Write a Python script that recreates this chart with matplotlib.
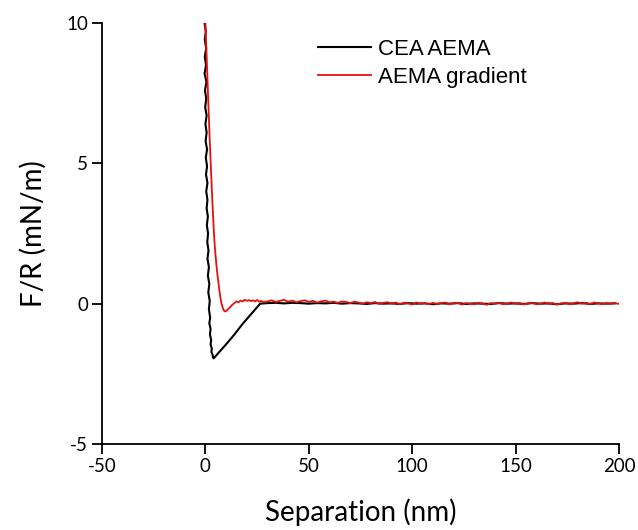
import numpy as np
import matplotlib
matplotlib.use("Agg")
import matplotlib.pyplot as plt

# ---------------- data ----------------
# CEA AEMA: approach (noisy descent), jump, linear recovery, flat baseline
cea_x_descent = [-0.4, 0.2, -0.3, 0.4, -0.3, 0.3, -0.4, 0.5, -0.2, 0.4, -0.1, 0.6,
                 0.0, 0.6, 0.1, 0.8, 0.2, 0.8, 0.3, 1.0, 0.4, 1.0, 0.6, 1.2,
                 0.7, 1.3, 0.9, 1.5, 1.0, 1.7, 1.2, 1.9, 1.4, 2.1, 1.7, 2.3,
                 1.9, 2.5, 2.2, 2.8, 2.5, 3.1, 2.9, 3.5, 3.6, 4.0]
cea_y_descent = [10.0, 9.7, 9.4, 9.1, 8.8, 8.5, 8.2, 7.9, 7.6, 7.3, 7.0, 6.7,
                 6.4, 6.1, 5.8, 5.5, 5.2, 4.9, 4.6, 4.3, 4.0, 3.7, 3.4, 3.1,
                 2.8, 2.5, 2.2, 1.9, 1.6, 1.3, 1.0, 0.7, 0.4, 0.1, -0.2, -0.5,
                 -0.7, -0.9, -1.1, -1.3, -1.45, -1.6, -1.72, -1.82, -1.9, -1.95]
cea_x_recover = [6.0, 10.0, 14.0, 18.0, 22.0, 26.5]
cea_y_recover = [-1.78, -1.45, -1.1, -0.72, -0.38, 0.0]
cea_x_tail = np.arange(30, 201, 4)
cea_y_tail = [0.02, 0.03, 0.01, 0.03, 0.02, 0.00, 0.02, 0.01, 0.03, 0.00,
              0.02, 0.01, -0.01, 0.02, 0.00, 0.01, -0.01, 0.02, 0.00, 0.01,
              -0.02, 0.01, 0.00, 0.02, -0.01, 0.01, 0.00, -0.01, 0.02, 0.00,
              0.01, -0.01, 0.02, 0.00, 0.01, -0.02, 0.01, 0.00, 0.02, -0.01,
              0.01, 0.00, 0.01]

# AEMA gradient: smooth steep decay, shallow minimum, slight bump, baseline
grad_x_head = [0.0, 0.4, 0.8, 1.2, 1.6, 2.0, 2.4, 2.8, 3.2, 3.6, 4.0, 4.4, 4.8,
               5.3, 5.8, 6.3, 6.8, 7.3, 7.8, 8.4, 9.0, 9.6, 10.4, 11.2, 12.0,
               13.0, 14.0, 15.0, 16.0, 17.0, 18.0, 19.0, 20.0, 21.0, 22.0,
               23.0, 24.0, 25.0, 26.0, 27.0, 28.0]
grad_y_head = [10.0, 9.2, 8.4, 7.6, 6.8, 6.0, 5.3, 4.6, 3.9, 3.3, 2.7, 2.2, 1.8,
               1.4, 1.05, 0.75, 0.45, 0.2, 0.0, -0.15, -0.25, -0.28, -0.24, -0.18,
               -0.12, -0.04, 0.02, 0.08, 0.05, 0.11, 0.08, 0.14, 0.10, 0.13, 0.09,
               0.12, 0.08, 0.13, 0.07, 0.10, 0.06]
grad_x_tail = np.arange(30, 201, 2)
grad_y_tail = [0.08, 0.12, 0.06, 0.10, 0.14, 0.07, 0.11, 0.05, 0.09, 0.12,
               0.06, 0.10, 0.04, 0.08, 0.11, 0.05, 0.07, 0.03, 0.08, 0.06,
               0.02, 0.07, 0.04, 0.00, 0.05, 0.02, 0.06, -0.01, 0.03, 0.05,
               0.00, 0.04, -0.02, 0.03, 0.01, -0.03, 0.04, 0.00, 0.02, -0.02,
               0.03, -0.01, 0.02, 0.04, -0.02, 0.01, 0.03, -0.03, 0.02, 0.00,
               -0.02, 0.03, 0.01, -0.04, 0.02, 0.00, 0.03, -0.02, 0.01, 0.04,
               -0.01, 0.02, -0.03, 0.01, 0.03, -0.02, 0.00, 0.04, -0.01, 0.02,
               -0.03, 0.01, 0.03, -0.02, 0.02, 0.05, 0.00, 0.03, -0.01, 0.04,
               0.01, -0.02, 0.03, 0.00, 0.02, -0.01]

x_ticks = [-50, 0, 50, 100, 150, 200]
y_ticks = [-5, 0, 5, 10]
series_names = ["CEA AEMA", "AEMA gradient"]

# ---------------- figure ----------------
fig = plt.figure(figsize=(6.38, 5.30), dpi=100)
ax = fig.add_axes([102 / 638, 1 - 444 / 530, (619 - 102) / 638, (444 - 23) / 530])

cea_x = list(cea_x_descent) + list(cea_x_recover) + list(cea_x_tail)
cea_y = list(cea_y_descent) + list(cea_y_recover) + list(cea_y_tail)
grad_x = list(grad_x_head) + list(grad_x_tail)
grad_y = list(grad_y_head) + list(grad_y_tail)

ax.plot(cea_x, cea_y, color="black", lw=1.5, label=series_names[0])
ax.plot(grad_x, grad_y, color="#e8100c", lw=1.3, label=series_names[1])

ax.set_xlim(-50, 200)
ax.set_ylim(-5, 10)
ax.set_xticks(x_ticks)
ax.set_yticks(y_ticks)
ax.set_xticklabels([str(t) for t in x_ticks])
ax.set_yticklabels([str(t) for t in y_ticks])

for s in ["top", "right"]:
    ax.spines[s].set_visible(False)
for s in ["left", "bottom"]:
    ax.spines[s].set_linewidth(1.3)
ax.tick_params(axis="both", direction="out", length=7, width=1.3,
               labelsize=13.5, pad=3)
for lab in ax.get_xticklabels() + ax.get_yticklabels():
    lab.set_family("Lato")

ax.set_xlabel("Separation (nm)", fontsize=20, family="Lato", labelpad=17)
ax.set_ylabel("F/R (mN/m)", fontsize=20, family="Lato", labelpad=14)

leg = ax.legend(loc="upper left", bbox_to_anchor=(318 / 638, 1 - 39 / 530),
                bbox_transform=fig.transFigure, frameon=False,
                prop={"family": "Liberation Sans", "size": 16},
                handlelength=2.4, handletextpad=0.3, labelspacing=0.3,
                borderaxespad=0, borderpad=0)

fig.savefig("out.png", dpi=100)
